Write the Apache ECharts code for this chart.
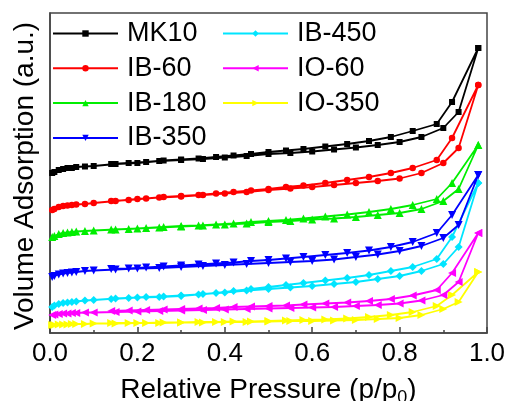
<!DOCTYPE html>
<html>
<head>
<meta charset="utf-8">
<script src="https://cdn.jsdelivr.net/npm/echarts@6/dist/echarts.min.js"></script>
<style>
  html, body { margin: 0; padding: 0; background: #fff; }
  #chart { width: 507px; height: 401px; }
</style>
</head>
<body>
<div id="chart"></div>
<script>
// Relative pressures: adsorption branch (rising) then desorption branch (falling)
const pAds = [0.005, 0.01, 0.02, 0.03, 0.04, 0.05, 0.06, 0.08, 0.10, 0.15, 0.20, 0.25, 0.30, 0.35, 0.40, 0.45, 0.50, 0.55, 0.60, 0.65, 0.70, 0.75, 0.80, 0.85, 0.90, 0.935, 0.98];
const pDes = [0.98, 0.92, 0.885, 0.83, 0.78, 0.73, 0.68, 0.63, 0.58, 0.54, 0.50, 0.46, 0.42, 0.38, 0.34, 0.30, 0.26, 0.22, 0.18, 0.14];

const sampleNames = ['MK10', 'IB-60', 'IB-180', 'IB-350', 'IB-450', 'IO-60', 'IO-350'];

// Adsorbed volume (a.u., curves stacked with offsets)
const mk10Ads = [160, 161, 163, 164, 165, 165, 166, 166.5, 167, 169, 170, 172, 173, 174, 175.5, 177, 179, 180, 181.5, 183.5, 185.5, 188, 191, 196, 205, 221, 285];
const mk10Des = [285, 231, 209, 202, 196, 192, 189, 186.5, 184, 182.5, 181, 179, 177.5, 176, 174.5, 173.5, 172.5, 171, 170, 169];

const ib60Ads = [123, 124, 126, 127, 127.5, 128, 128.5, 129, 130, 132, 134, 135.5, 136.5, 138, 139.5, 141, 143, 144.5, 146, 148, 150, 152, 154.5, 160, 170, 185, 248];
const ib60Des = [248, 195, 173, 165, 160, 156, 153, 150, 147.5, 146, 144, 142.5, 141, 139.5, 138, 137, 136, 134.5, 133, 132];

const ib180Ads = [96, 97, 99, 100, 100.5, 101, 101.5, 102, 102.5, 103.5, 104.5, 105.5, 106.5, 107.5, 108.5, 109.5, 111, 112, 113.5, 114.5, 116, 118, 120, 124, 132, 144, 188];
const ib180Des = [188, 150, 134, 128, 124, 121, 118.5, 116.5, 114.5, 113, 112, 111, 109.5, 108.5, 107.5, 107, 106, 105, 104, 103.5];

const ib350Ads = [56, 57, 58.5, 59.5, 60, 60.5, 61, 62, 62.5, 63.5, 64.5, 65, 66, 67, 68, 69, 70, 71, 72, 73.5, 76, 78.5, 82, 87, 95, 108, 158];
const ib350Des = [158, 118, 100, 91, 86, 82.5, 80, 78, 76, 74.5, 73, 72, 70.5, 69.5, 68.5, 67.5, 66.5, 65.5, 64.5, 64];

const ib450Ads = [26, 27.5, 29, 30, 30.5, 31, 31.5, 32.5, 33, 34.5, 35.5, 36, 37, 39, 40.5, 42.5, 44, 45.5, 47, 49, 51, 54, 57, 62, 69, 86, 150];
const ib450Des = [150, 96, 74, 66, 62, 58, 55, 52.5, 50, 48, 46, 44, 42, 40, 38.5, 37.5, 36.5, 36, 35, 34];

const io60Ads = [18, 18.5, 19, 19.5, 19.5, 20, 20, 20.5, 20.5, 21, 21.5, 22, 22.5, 23, 23.5, 24, 24.5, 25, 25.5, 26, 27, 28, 29.5, 32.5, 38, 51, 100];
const io60Des = [100, 60, 43, 37.5, 34, 32, 30.5, 29.5, 28.5, 27.5, 27, 26.5, 26, 25, 24.5, 24, 23.5, 23, 22.5, 22];

const io350Ads = [8, 8, 8.5, 8.5, 8.5, 9, 9, 9, 9.5, 9.5, 10, 10, 10.5, 10.5, 11, 11, 11.5, 12, 12, 12.5, 13, 14, 15, 18, 24, 31, 61];
const io350Des = [61, 38, 27, 21, 18, 16, 14.5, 13.5, 13, 12.5, 12, 11.5, 11.5, 11, 11, 10.5, 10.5, 10, 10, 10];

const xTicks = [0.0, 0.2, 0.4, 0.6, 0.8, 1.0];

const branches = [
  [mk10Ads, mk10Des], [ib60Ads, ib60Des], [ib180Ads, ib180Des], [ib350Ads, ib350Des],
  [ib450Ads, ib450Des], [io60Ads, io60Des], [io350Ads, io350Des]
];
const colors = ['#000000', '#ff0000', '#00ee00', '#0000ff', '#00e5ff', '#ff00ff', '#ffff00'];
const symbols = ['rect', 'circle', 'triangle', 'triangle', 'diamond', 'triangle', 'triangle'];
const rotations = [0, 0, 0, 180, 0, 90, -90];
const symbolSizes = [6, 6.5, 8, 8, 8, 8, 8];

function loop(ads, des) {
  const pts = pAds.map((p, i) => [p, ads[i]]);
  return pts.concat(pDes.map((p, i) => [p, des[i]]));
}

const series = sampleNames.map((name, k) => ({
  name: name,
  type: 'line',
  data: loop(branches[k][0], branches[k][1]),
  symbol: symbols[k],
  symbolRotate: rotations[k],
  symbolSize: symbolSizes[k],
  showAllSymbol: true,
  color: colors[k],
  lineStyle: { width: 1.8, color: colors[k] },
  itemStyle: { color: colors[k] },
  z: 10 - k,
  animation: false
}));

const fontFamily = '"Liberation Sans", Arial, sans-serif';
const legendBase = {
  orient: 'vertical',
  padding: 0,
  itemWidth: 65,
  itemHeight: 8,
  itemGap: 7.8,
  textStyle: { fontFamily: fontFamily, fontSize: 27, color: '#000', padding: [0, 0, 0, 4] },
  backgroundColor: 'transparent'
};

const chart = echarts.init(document.getElementById('chart'), null, { renderer: 'canvas' });
chart.setOption({
  backgroundColor: '#ffffff',
  animation: false,
  grid: {
    left: 50, right: 20, top: 13, bottom: 68,
    outerBoundsMode: 'none', containLabel: false,
    show: true, borderColor: '#444', borderWidth: 1.5
  },
  legend: [
    Object.assign({}, legendBase, { left: 52, top: 20, data: sampleNames.slice(0, 4) }),
    Object.assign({}, legendBase, { left: 222, top: 20, data: sampleNames.slice(4) })
  ],
  xAxis: {
    type: 'value',
    min: 0, max: 1, interval: 0.2,
    name: 'Relative Pressure (p/p{sub|0})',
    nameLocation: 'middle',
    nameGap: 40,
    nameTextStyle: {
      fontFamily: fontFamily, fontSize: 28, color: '#000', lineHeight: 34,
      rich: {
        sub: { fontFamily: fontFamily, fontSize: 18, color: '#000', verticalAlign: 'bottom', lineHeight: 28 }
      }
    },
    axisLine: { show: true, lineStyle: { color: '#444', width: 1.5 } },
    axisTick: { show: true, inside: true, length: 6, lineStyle: { color: '#444', width: 1.5 } },
    minorTick: { show: true, splitNumber: 2, length: 3, lineStyle: { color: '#444', width: 1.5 } },
    splitLine: { show: false },
    axisLabel: {
      fontFamily: fontFamily, fontSize: 26, color: '#000', margin: 8,
      formatter: v => {
        const t = xTicks.find(x => Math.abs(x - v) < 1e-9);
        return t === undefined ? '' : t.toFixed(1);
      }
    }
  },
  yAxis: {
    type: 'value',
    min: 0, max: 320,
    name: 'Volume Adsorption (a.u.)',
    nameLocation: 'middle',
    nameGap: 11,
    nameTextStyle: { fontFamily: fontFamily, fontSize: 28, color: '#000', padding: [0, 6, 0, 0] },
    axisLine: { show: true, lineStyle: { color: '#444', width: 1.5 } },
    axisTick: { show: false },
    axisLabel: { show: false },
    splitLine: { show: false }
  },
  series: series
});
</script>
</body>
</html>
